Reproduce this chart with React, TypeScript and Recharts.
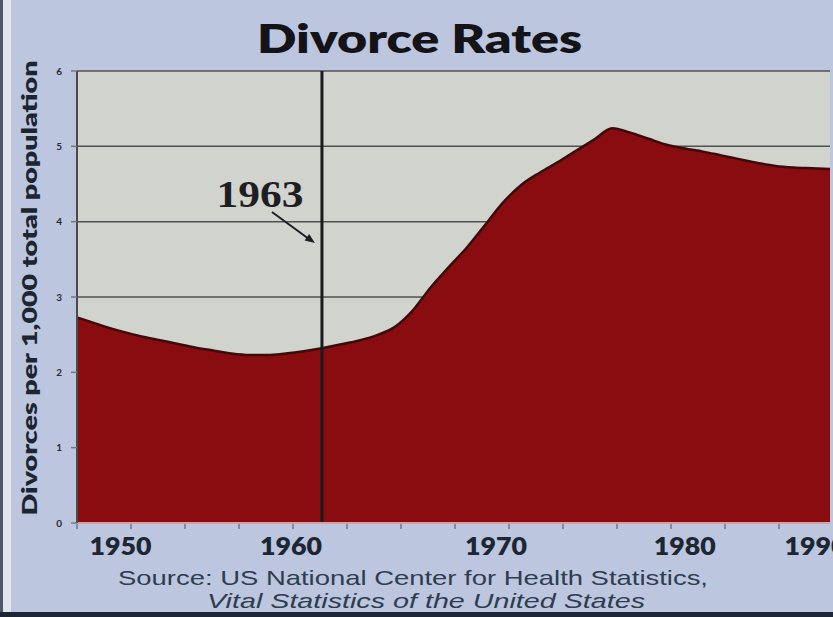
import React from 'react';
import { AreaChart, Area, XAxis, YAxis, CartesianGrid, ReferenceLine } from 'recharts';

// ---- data ----
const years = [
  1949, 1950, 1951, 1952, 1953, 1954, 1955, 1956, 1957, 1958, 1959,
  1960, 1961, 1962, 1963, 1964, 1965, 1966, 1967, 1968, 1969,
  1970, 1971, 1972, 1973, 1974, 1975, 1976, 1977, 1978, 1979,
  1980, 1981, 1982, 1983, 1984, 1985, 1986, 1987, 1988, 1989, 1990, 1991,
];
const rates = [
  2.77, 2.69, 2.61, 2.54, 2.48, 2.43, 2.38, 2.33, 2.29, 2.25, 2.23,
  2.23, 2.25, 2.28, 2.32, 2.37, 2.42, 2.49, 2.6, 2.82, 3.13,
  3.4, 3.66, 3.96, 4.26, 4.49, 4.65, 4.79, 4.94, 5.09, 5.24,
  5.18, 5.1, 5.02, 4.97, 4.93, 4.88, 4.83, 4.78, 4.74, 4.72, 4.71, 4.7,
];
const yTicks = [0, 1, 2, 3, 4, 5, 6];
const xLabels = ['1950', '1960', '1970', '1980', '1990'];
// where the original chart printed its year labels (in axis units)
const xLabelAt = [1951.9, 1961.3, 1972.6, 1983.0, 1990.2];
const markedYear = 1963;
const markedLabel = '1963';
const titleText = 'Divorce Rates';
const yTitle = 'Divorces per 1,000 total population';
const sourceLine1 = 'Source: US National Center for Health Statistics,';
const sourceLine2 = 'Vital Statistics of the United States';

const xDomain: [number, number] = [1949.5, 1991];
const minorTickCount = 14;

const data = years.map((year, i) => ({ year, rate: rates[i] }));
const minorTicks = Array.from(
  { length: minorTickCount },
  (_, i) => xDomain[0] + (i * (xDomain[1] - xDomain[0]) * 54) / 753
);
const allTicks = [...minorTicks, ...xLabelAt].sort((a, b) => a - b);

const XTick = (props: any) => {
  const { x, y, payload } = props;
  const idx = xLabelAt.indexOf(payload.value);
  if (idx < 0) {
    return <line x1={x} y1={y + 1} x2={x} y2={y + 6} stroke="#727888" strokeWidth={1.5} />;
  }
  return (
    <text
      x={x}
      y={y + 32}
      textAnchor="middle"
      fontFamily="Lato, 'Noto Sans', sans-serif"
      fontWeight={800}
      fontSize={24}
      fill="#1c2733"
      textLength={62}
      lengthAdjust="spacingAndGlyphs"
    >
      {xLabels[idx]}
    </text>
  );
};

const MarkLabel = (props: any) => {
  const vb = props.viewBox || {};
  const x = vb.x ?? 0;
  const y = vb.y ?? 0;
  return (
    <g>
      <text
        x={x - 62}
        y={y + 136}
        textAnchor="middle"
        fontFamily="'Liberation Serif', 'DejaVu Serif', serif"
        fontWeight={700}
        fontSize={38}
        fill="#1e1e24"
        textLength={87}
        lengthAdjust="spacingAndGlyphs"
      >
        {markedLabel}
      </text>
      <line x1={x - 50} y1={y + 141} x2={x - 13} y2={y + 168} stroke="#1e1e24" strokeWidth={2} />
      <polygon
        points={`${x - 7},${y + 172} ${x - 17.4},${y + 169.4} ${x - 12.8},${y + 162.9}`}
        fill="#1e1e24"
      />
    </g>
  );
};

export default function App() {
  return (
    <div
      style={{
        position: 'fixed',
        left: 0,
        top: 0,
        width: 833,
        height: 617,
        overflow: 'hidden',
        background: '#bcc6de',
      }}
    >
      <div style={{ position: 'absolute', left: 0, top: 0 }}>
        <AreaChart
          width={833}
          height={617}
          data={data}
          margin={{ top: 71, right: 3, bottom: 54, left: 0 }}
        >
          <CartesianGrid
            vertical={false}
            stroke="#505050"
            strokeWidth={1.5}
            fill="#d1d3cd"
            fillOpacity={1}
          />
          <XAxis
            dataKey="year"
            type="number"
            domain={xDomain}
            allowDataOverflow
            ticks={allTicks}
            interval={0}
            height={40}
            tickSize={0}
            tickMargin={0}
            tickLine={false}
            tick={<XTick />}
            axisLine={{ stroke: '#d99ea2', strokeWidth: 2 }}
          />
          <YAxis
            type="number"
            domain={[0, 6]}
            ticks={yTicks}
            interval={0}
            width={77}
            tickSize={6}
            tickMargin={9}
            tickLine={{ stroke: '#777', strokeWidth: 1.5 }}
            axisLine={{ stroke: '#4a4a4a', strokeWidth: 2 }}
            tick={{ fontSize: 10, fontWeight: 700, fill: '#2a2a30', fontFamily: 'Lato, sans-serif' }}
          />
          <YAxis
            yAxisId="r"
            orientation="right"
            type="number"
            domain={[0, 6]}
            width={0}
            tick={false}
            tickLine={false}
            axisLine={{ stroke: '#6a6e78', strokeWidth: 2 }}
          />
          <Area
            type="monotone"
            dataKey="rate"
            fill="#880c10"
            fillOpacity={1}
            stroke="#3a0c0c"
            strokeWidth={2.5}
            dot={false}
            activeDot={false}
            isAnimationActive={false}
          />
          <ReferenceLine
            x={markedYear}
            stroke="#1a1a1e"
            strokeWidth={3}
            label={(p: any) => <MarkLabel {...p} />}
          />
        </AreaChart>
      </div>
      <svg
        width={833}
        height={617}
        style={{ position: 'absolute', left: 0, top: 0, pointerEvents: 'none' }}
      >
        <rect x={0} y={0} width={3} height={617} fill="#4f5866" />
        <rect x={3} y={0} width={8} height={617} fill="#e2e5ee" />
        <rect x={0} y={612} width={833} height={5} fill="#1c2733" />
        <text
          x={257}
          y={53}
          fontFamily="Lato, 'Noto Sans', sans-serif"
          fontWeight={800}
          fontSize={40}
          fill="#141418"
          textLength={325}
          lengthAdjust="spacingAndGlyphs"
        >
          {titleText}
        </text>
        <text
          x={37}
          y={288}
          transform="rotate(-90, 37, 288)"
          textAnchor="middle"
          fontFamily="Lato, 'Noto Sans', sans-serif"
          fontWeight={800}
          fontSize={21}
          fill="#1c2633"
          textLength={455}
          lengthAdjust="spacingAndGlyphs"
        >
          {yTitle}
        </text>
        <text
          x={118}
          y={585}
          fontFamily="'Liberation Sans', Arial, sans-serif"
          fontSize={21}
          fill="#2e3d50"
          textLength={590}
          lengthAdjust="spacingAndGlyphs"
        >
          {sourceLine1}
        </text>
        <text
          x={207}
          y={608}
          fontFamily="'Liberation Sans', Arial, sans-serif"
          fontStyle="italic"
          fontSize={21}
          fill="#2e3d50"
          textLength={438}
          lengthAdjust="spacingAndGlyphs"
        >
          {sourceLine2}
        </text>
      </svg>
    </div>
  );
}
